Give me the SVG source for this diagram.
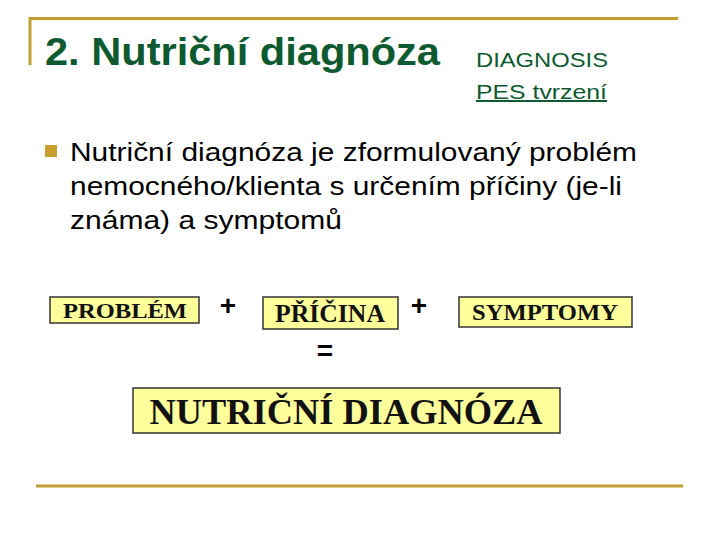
<svg xmlns="http://www.w3.org/2000/svg" width="720" height="540" viewBox="0 0 720 540">
<style>
.gold{stroke:#bf9f2f;stroke-width:3;fill:none}
.head{font-family:"Liberation Sans",Arial,sans-serif;fill:#0d5a30}
.body{font-family:"Liberation Sans",Arial,sans-serif;font-size:26px;fill:#000}
.box rect{fill:#ffff9c;stroke:#333;stroke-width:1.5}
.box text{font-family:"Liberation Serif","Times New Roman",serif;font-weight:bold;fill:#111;text-anchor:middle}
.op{font-family:"Liberation Sans",Arial,sans-serif;font-weight:bold;font-size:28px;fill:#000;text-anchor:middle}
</style>
<rect width="720" height="540" fill="#fff"/>
<g id="frame">
<path class="gold" d="M30 65 V18.5 H678"/>
<path class="gold" d="M36 486 H683"/>
</g>
<g id="title">
<text class="head" x="45" y="65" font-size="39" font-weight="bold" textLength="395" lengthAdjust="spacingAndGlyphs">2. Nutriční diagnóza</text>
<text class="head" x="476" y="67" font-size="20" textLength="132" lengthAdjust="spacingAndGlyphs">DIAGNOSIS</text>
<text class="head" x="476" y="99" font-size="20" text-decoration="underline" textLength="131" lengthAdjust="spacingAndGlyphs">PES tvrzení</text>
</g>
<g id="bullet">
<rect x="45" y="145" width="12" height="12" fill="#c9a030"/>
<text class="body" x="70" y="161" textLength="567" lengthAdjust="spacingAndGlyphs">Nutriční diagnóza je zformulovaný problém</text>
<text class="body" x="70" y="195" textLength="552" lengthAdjust="spacingAndGlyphs">nemocného/klienta s určením příčiny (je-li</text>
<text class="body" x="70" y="229" textLength="272" lengthAdjust="spacingAndGlyphs">známa) a symptomů</text>
</g>
<g id="problem" class="box">
<rect x="50" y="297" width="149" height="26"/>
<text x="125" y="318" font-size="22" textLength="124" lengthAdjust="spacingAndGlyphs">PROBLÉM</text>
</g>
<g id="pricina" class="box">
<rect x="263" y="297" width="135" height="32"/>
<text x="330" y="322" font-size="25" textLength="110" lengthAdjust="spacingAndGlyphs">PŘÍČINA</text>
</g>
<g id="symptomy" class="box">
<rect x="459" y="297" width="173" height="30"/>
<text x="545" y="320" font-size="23" textLength="146" lengthAdjust="spacingAndGlyphs">SYMPTOMY</text>
</g>
<g id="diagnoza" class="box">
<rect x="133" y="388" width="427" height="45"/>
<text x="346" y="424" font-size="36" textLength="393" lengthAdjust="spacingAndGlyphs">NUTRIČNÍ DIAGNÓZA</text>
</g>
<g id="connectors">
<text class="op" x="228" y="315">+</text>
<text class="op" x="419" y="315">+</text>
<text class="op" x="325" y="360">=</text>
</g>
</svg>
